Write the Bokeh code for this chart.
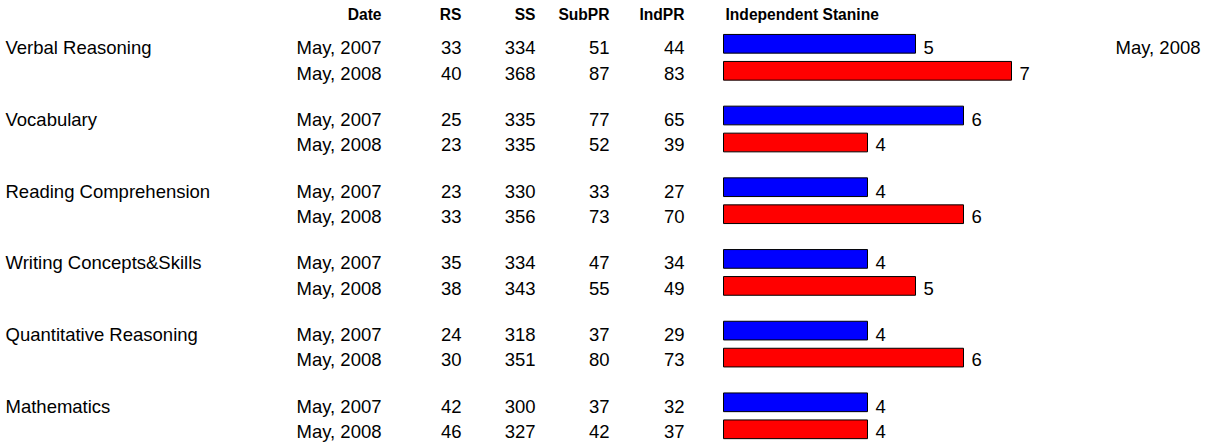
from bokeh.plotting import figure
from bokeh.models import Range1d, ColumnDataSource
from bokeh.core.properties import value
from bokeh.embed import file_html
from bokeh.resources import INLINE

# ---------------- data ----------------
subjects = ["Verbal Reasoning", "Vocabulary", "Reading Comprehension",
            "Writing Concepts&Skills", "Quantitative Reasoning", "Mathematics"]
dates = ["May, 2007", "May, 2008"]
headers = ["Date", "RS", "SS", "SubPR", "IndPR", "Independent Stanine"]
rs_2007 = [33, 25, 23, 35, 24, 42]
rs_2008 = [40, 23, 33, 38, 30, 46]
ss_2007 = [334, 335, 330, 334, 318, 300]
ss_2008 = [368, 335, 356, 343, 351, 327]
subpr_2007 = [51, 77, 33, 47, 37, 37]
subpr_2008 = [87, 52, 73, 55, 80, 42]
indpr_2007 = [44, 65, 27, 34, 29, 32]
indpr_2008 = [83, 39, 70, 49, 73, 37]
stanine_2007 = [5, 6, 4, 4, 4, 4]
stanine_2008 = [7, 4, 6, 5, 6, 4]
corner_label = "May, 2008"

# ---------------- layout ----------------
W, H = 1205, 445
BAR0_PX = 723      # pixel where stanine 1 sits
UNIT_PX = 48       # pixels per stanine
PITCH = 71.7
FONT = value("Liberation Sans")
FS = "18.5px"
HFS = "15.6px"


def sx(px):
    """pixel column -> stanine data units"""
    return 1 + (px - BAR0_PX) / UNIT_PX


p = figure(width=W, height=H, output_backend="svg", toolbar_location=None,
           x_range=Range1d(sx(0), sx(W)), y_range=Range1d(H, 0),
           min_border=0)
p.axis.visible = False
p.grid.visible = False
p.outline_line_color = None
p.background_fill_color = "white"
p.border_fill_color = "white"

n = len(subjects)
y07_text = [47.3 + g * PITCH for g in range(n)]
y08_text = [72.5 + g * PITCH for g in range(n)]
y07_bar = [43.3 + g * PITCH for g in range(n)]
y08_bar = [70.3 + g * PITCH for g in range(n)]
HEAD_Y = 14

# headers
col_right = {"Date": 381, "RS": 461, "SS": 535, "SubPR": 609, "IndPR": 684}
for h in headers[:-1]:
    p.text(x=[sx(col_right[h])], y=[HEAD_Y], text=[h], text_font=FONT,
           text_font_size=HFS, text_font_style="bold",
           text_align="right", text_baseline="middle", text_color="black")
p.text(x=[sx(725)], y=[HEAD_Y], text=[headers[-1]], text_font=FONT,
       text_font_size=HFS, text_font_style="bold",
       text_align="left", text_baseline="middle", text_color="black")

# subject labels
p.text(x=[sx(5)] * n, y=y07_text, text=subjects, text_font=FONT,
       text_font_size=FS, text_align="left", text_baseline="middle",
       text_color="black")

# table columns
cols = [("Date", [dates[0]] * n, [dates[1]] * n),
        ("RS", rs_2007, rs_2008),
        ("SS", ss_2007, ss_2008),
        ("SubPR", subpr_2007, subpr_2008),
        ("IndPR", indpr_2007, indpr_2008)]
for name, a, b in cols:
    xs = [sx(col_right[name])] * n
    p.text(x=xs, y=y07_text, text=[str(v) for v in a], text_font=FONT,
           text_font_size=FS, text_align="right", text_baseline="middle",
           text_color="black")
    p.text(x=xs, y=y08_text, text=[str(v) for v in b], text_font=FONT,
           text_font_size=FS, text_align="right", text_baseline="middle",
           text_color="black")

# bars
src07 = ColumnDataSource(dict(y=y07_bar, right=stanine_2007, left=[1] * n,
                              lab=[str(v) for v in stanine_2007],
                              ty=y07_text))
src08 = ColumnDataSource(dict(y=y08_bar, right=stanine_2008, left=[1] * n,
                              lab=[str(v) for v in stanine_2008],
                              ty=y08_text))
p.hbar(y="y", left="left", right="right", height=18.7, source=src07,
       fill_color="#0000FF", line_color="black", line_width=1)
p.hbar(y="y", left="left", right="right", height=18.7, source=src08,
       fill_color="#FF0000", line_color="black", line_width=1)
p.text(x="right", y="ty", text="lab", source=src07, x_offset=8,
       text_font=FONT, text_font_size=FS, text_align="left",
       text_baseline="middle", text_color="black")
p.text(x="right", y="ty", text="lab", source=src08, x_offset=8,
       text_font=FONT, text_font_size=FS, text_align="left",
       text_baseline="middle", text_color="black")

# corner label
p.text(x=[sx(1200)], y=[y07_text[0]], text=[corner_label], text_font=FONT,
       text_font_size=FS, text_align="right", text_baseline="middle",
       text_color="black")

open("out.html", "w").write(file_html(p, INLINE))
